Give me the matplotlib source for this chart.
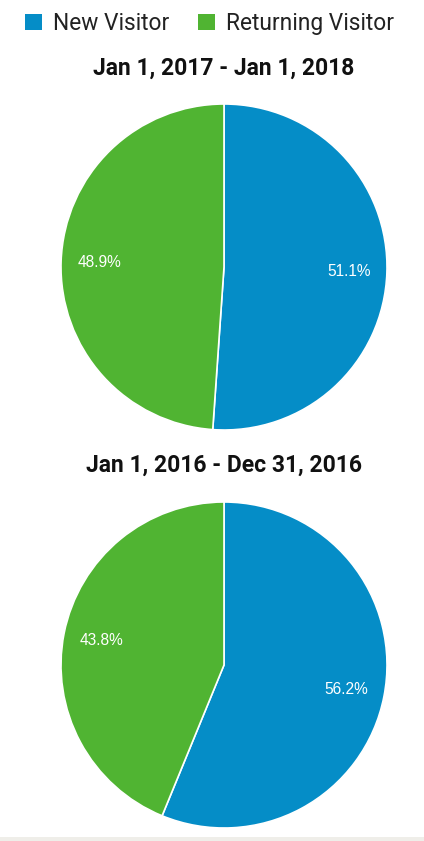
import numpy as np
import matplotlib.pyplot as plt
from matplotlib.patches import Patch, Rectangle

plt.rcParams['font.family'] = ['Roboto', 'DejaVu Sans']

series = ['New Visitor', 'Returning Visitor']
colors = ['#058dc7', '#50b432']
titles = ['Jan 1, 2017 - Jan 1, 2018', 'Jan 1, 2016 - Dec 31, 2016']
values = [
    [51.1, 48.9],
    [56.2, 43.8],
]

W, H = 424, 841
fig = plt.figure(figsize=(W / 100, H / 100), dpi=100)

# pie boxes in pixel coords: (left, top, size)
boxes = [(61, 104, 326), (61, 502, 326)]
title_y = [68, 465]

for vals, title, (x0, y0, s), ty in zip(values, titles, boxes, title_y):
    ax = fig.add_axes([x0 / W, 1 - (y0 + s) / H, s / W, s / H])
    wedges, texts = ax.pie(vals, colors=colors, startangle=90, counterclock=False,
                           radius=1, wedgeprops=dict(edgecolor='white', linewidth=1.2))
    for w, v in zip(wedges, vals):
        ang = np.deg2rad((w.theta1 + w.theta2) / 2)
        ax.text(0.765 * np.cos(ang), 0.765 * np.sin(ang), f'{v:.1f}%',
                ha='center', va='center', color='white', fontsize=11.2,
                family='Liberation Sans')
    ax.set_xlim(-1, 1)
    ax.set_ylim(-1, 1)
    ax.set_aspect('equal')
    ax.axis('off')
    fig.text(224 / W, 1 - ty / H, title, ha='center', va='center',
             fontsize=16.5, fontweight='bold', color='#111111')

handles = [Patch(facecolor=c, edgecolor='none', label=l) for c, l in zip(colors, series)]
fig.legend(handles=handles, loc='center', bbox_to_anchor=(209.5 / W, 1 - 23.5 / H), ncol=2,
           frameon=False, fontsize=16.4, handlelength=0.75, handleheight=0.75,
           handletextpad=0.48, columnspacing=1.27, labelcolor='#222222',
           borderpad=0, borderaxespad=0)

# thin gray strip at bottom
fig.patches.append(Rectangle((0, 0), 1, 4 / H, transform=fig.transFigure,
                             facecolor='#efeee9', edgecolor='none'))

fig.savefig('out.png', dpi=100)
